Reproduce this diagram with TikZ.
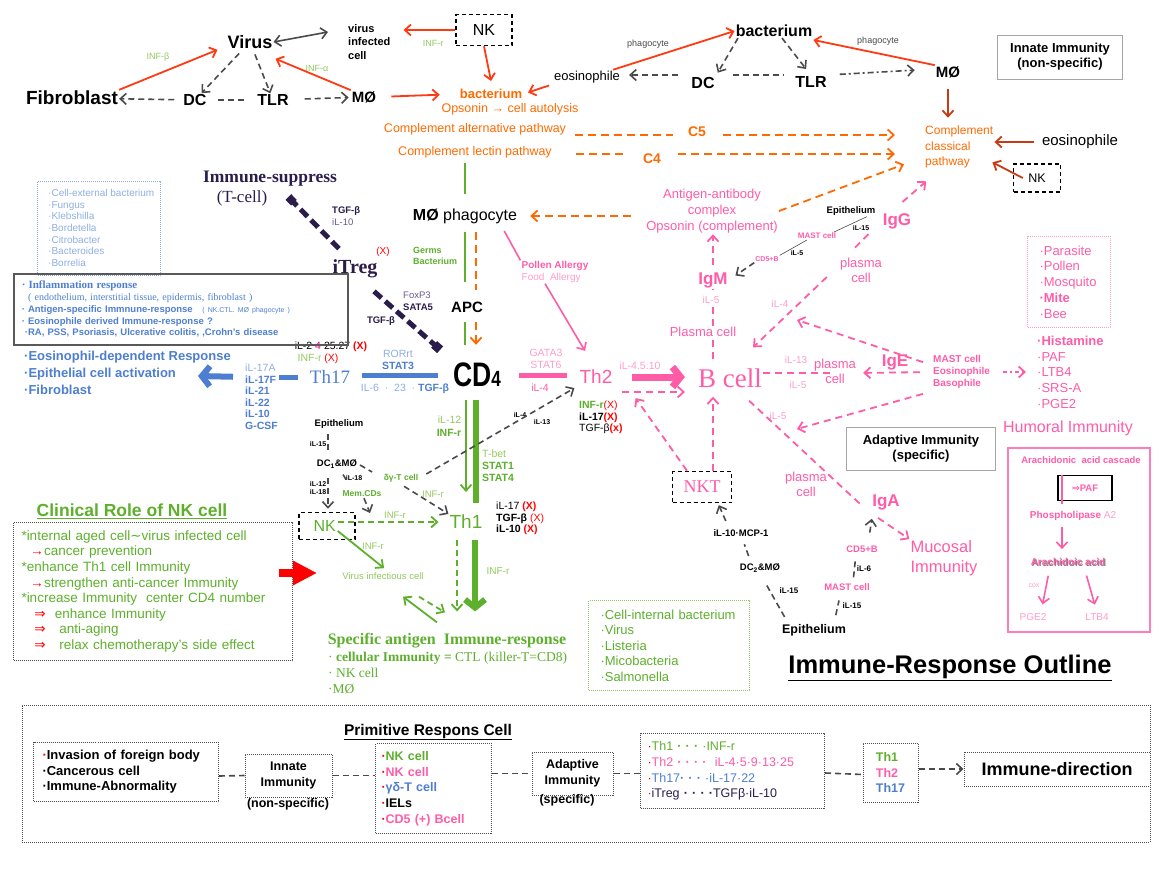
\documentclass[tikz,border=0pt]{standalone}
\usepackage{fontspec}
\setmainfont{Liberation Sans}
\newfontfamily\serf{Liberation Serif}
\newfontfamily\djv{DejaVu Sans}
\usetikzlibrary{arrows.meta}
\definecolor{redA}{HTML}{FF3A12}
\definecolor{brnA}{HTML}{C93A12}
\definecolor{orgA}{HTML}{FF6A00}
\definecolor{grnA}{HTML}{5DAF2C}
\definecolor{grnL}{HTML}{92C960}
\definecolor{pnkA}{HTML}{FF5CA8}
\definecolor{pnkL}{HTML}{FF9CCB}
\definecolor{bluA}{HTML}{4E7ED0}
\definecolor{bluL}{HTML}{8FAEE3}
\definecolor{purA}{HTML}{2B1D4A}
\definecolor{purL}{HTML}{6A5A8A}
\definecolor{gryA}{HTML}{4A4A4A}
\newcommand\ft[2]{\fontsize{#1}{#2}\selectfont}
\newcommand\rx[1]{\textcolor{red}{#1}}

\begin{document}
\begin{tikzpicture}[x=1pt,y=-1pt,>={Straight Barb[length=6pt,width=11pt]},inner sep=1pt]
  \tikzstyle{redline}=[->,draw=redA,line width=1.8pt]
  \tikzstyle{brnline}=[->,draw=brnA,line width=1.8pt]
  \tikzstyle{greydash}=[->,draw=gryA,line width=1.6pt,dash pattern=on 6pt off 4pt]
  \tikzstyle{orgdash}=[->,draw=orgA,line width=1.8pt,dash pattern=on 8pt off 5pt]
  \tikzstyle{pinkdash}=[->,draw=pnkA,line width=1.8pt,dash pattern=on 7pt off 5pt]
  \tikzstyle{pinkline}=[->,draw=pnkA,line width=1.6pt]
  \tikzstyle{grnline}=[draw=grnA,line width=1.8pt]
  \tikzstyle{grndash}=[->,draw=grnA,line width=1.8pt,dash pattern=on 6pt off 4pt]
  \tikzstyle{fatarrow}=[line width=6pt,-{Straight Barb[length=8pt,width=20pt]}]
  \tikzstyle{nkbox}=[draw=black,line width=1.5pt,dash pattern=on 4pt off 3pt]
  \tikzstyle{grybox}=[draw=gray!70,line width=1pt,align=center,font=\bfseries\ft{13}{15}]
  \tikzstyle{dotbox}=[draw=gray!60!black,line width=1pt,dash pattern=on 1pt off 1pt]
  \tikzstyle{tag}=[font=\bfseries\ft{7}{8}]
  \useasboundingbox (0,0) rectangle (1170,878);

  % innate immunity
  \node[font=\bfseries\ft{18}{18}] (virus) at (250,42) {Virus};
  \node[font=\bfseries\ft{11}{13.5},align=left,anchor=west] (vic) at (347,42) {virus\\infected\\cell};
  \node[font=\bfseries\ft{19}{19}] (fib) at (72,98) {Fibroblast};
  \node[font=\bfseries\ft{16}{16}] (dcA) at (195,100) {DC};
  \node[font=\bfseries\ft{16}{16}] (tlrA) at (273,100) {TLR};
  \node[font=\bfseries\ft{15}{15}] (moA) at (364,97) {MØ};
  \node[font=\ft{9}{9},text=grnL] (infb) at (158,57) {INF-β};
  \node[font=\ft{9}{9},text=grnL] (infa) at (317,68) {INF-α};
  \node[nkbox,minimum width=56pt,minimum height=31pt,font=\ft{16}{16}] (nkA) at (484,30) {NK};
  \node[font=\ft{9}{9},text=grnL] (infr) at (433,43) {INF-r};
  \node[font=\bfseries\ft{13}{13},text=orgA] (bacA) at (491,94) {bacterium};
  \node[font=\ft{12.5}{12.5},text=orgA] (opso) at (510,109) {Opsonin → cell autolysis};
  \node[font=\ft{13}{13}] (eosA) at (587,77) {eosinophile};
  \node[font=\ft{9}{9},text=gryA] (phgA) at (648,44) {phagocyte};
  \node[font=\bfseries\ft{16}{16}] (bacB) at (774,31) {bacterium};
  \node[font=\bfseries\ft{16}{16}] (dcB) at (703,83) {DC};
  \node[font=\bfseries\ft{16}{16}] (tlrB) at (811,82) {TLR};
  \node[font=\bfseries\ft{15}{15}] (moB) at (948,72) {MØ};
  \node[font=\ft{9}{9},text=gryA] (phgB) at (878,41) {phagocyte};
  \node[grybox,minimum width=125pt,minimum height=44pt] (innate) at (1060,57) {Innate Immunity\\(non-specific)};
  \node[font=\ft{12}{15.5},text=orgA,align=left,anchor=west] (ccp) at (924,147) {Complement\\classical\\pathway};
  \node[font=\ft{15}{15}] (eosB) at (1080,142) {eosinophile};
  \node[nkbox,minimum width=47pt,minimum height=28pt,font=\ft{12.5}{12.5}] (nkB) at (1037,178) {NK};
  \node[font=\ft{12.5}{12.5},text=orgA] (cap) at (475,129) {Complement alternative pathway};
  \node[font=\ft{12.5}{12.5},text=orgA] (clp) at (475,152) {Complement lectin pathway};
  \node[font=\bfseries\ft{14}{14},text=orgA] (cfive) at (697,132) {C5};
  \node[font=\bfseries\ft{14}{14},text=orgA] (cfour) at (652,159) {C4};

  % centre column
  \node[font=\ft{16}{16}] (mph) at (465,216) {\textbf{MØ} phagocyte};
  \node[font=\bfseries\ft{9}{11.5},text=grnA,align=left,anchor=west] (germs) at (412,256) {Germs\\Bacterium};
  \node[font=\bfseries\ft{15}{15}] (apc) at (467,307) {APC};
  \node[font=\bfseries\ft{34}{34},xscale=0.78] (cd4) at (477,375) {CD{\ft{22}{22}4}};
  \node[font=\ft{19}{19},text=grnA] (th1) at (466,522) {Th1};
  \node[font=\ft{10.5}{13},align=right] (ilonetwo) at (449,426) {\textcolor{grnL}{iL-12}\\\textcolor{grnA}{\textbf{INF-r}}};
  \node[font=\ft{10.5}{12},text=grnA,align=left,anchor=west] (tbet) at (481,466) {\textcolor{grnL}{T-bet}\\\textbf{STAT1}\\\textbf{STAT4}};
  \node[font=\ft{10.5}{11.5},align=left,anchor=north west] (thonex) at (495,501) {iL-17 \rx{\textbf{(X)}}\\\textbf{TGF-β} \rx{(X)}\\\textbf{iL-10} \rx{\textbf{(X)}}};
  \node[font=\ft{10}{10},text=grnL] (infrC) at (498,571) {INF-r};
  \node[font=\serf\bfseries\ft{16}{16},text=grnA] (spec) at (447,641) {Specific antigen\ \ Immune-response};
  \node[font=\serf\ft{13.5}{16},text=grnA,align=left,anchor=north west] (specl) at (327,651) {· \textbf{cellular Immunity =} CTL (killer-T=CD8)\\· NK cell\\·MØ};

  % regulatory / Th17 side
  \node[font=\serf\bfseries\ft{17.5}{17.5},text=purA] (imsup) at (270,179) {Immune-suppress};
  \node[font=\serf\ft{17}{17},text=purA] (tcell) at (242,198) {(T-cell)};
  \node[font=\ft{9.5}{12},text=purA,align=left,anchor=west] (tgfA) at (331,216) {\textbf{TGF-β}\\\textcolor{purL}{iL-10}};
  \node[font=\serf\bfseries\ft{20}{20},text=purA] (itreg) at (355,269) {iTreg};
  \node[font=\ft{10}{10},text=red] (itregx) at (383,252) {(X)};
  \node[font=\ft{9.5}{12.5},align=left,anchor=west] (foxp) at (402,301) {\textcolor{purL}{FoxP3}\\\textcolor{purA}{\textbf{SATA5}}};
  \node[font=\bfseries\ft{9.5}{9.5},text=purA] (tgfB) at (381,321) {TGF-β};
  \node[font=\serf\ft{19}{19},text=bluA] (th17) at (330,377) {Th17};
  \node[font=\ft{10.5}{10.5}] (iltwo) at (331,347) {iL-2 \textcolor{magenta}{4} 25.27 \rx{\textbf{(X)}}};
  \node[font=\ft{10.5}{10.5}] (infrX) at (318,359) {\textcolor{grnL}{INF-r} \rx{(X)}};
  \node[font=\ft{10.5}{12},text=bluA,align=center] (rorrt) at (398,360) {\textcolor{bluL}{RORrt}\\\textbf{STAT3}};
  \node[font=\ft{10.5}{10.5},text=bluL] (ilsix) at (405,389) {IL-6 \ · \ 23 \ · \textcolor{bluA}{\textbf{TGF-β}}};
  \node[anchor=north west,align=left,font=\bfseries\ft{10.5}{11.5},text=bluA] (il17) at (244,363) {\textcolor{bluL}{\mdseries iL-17A}\\iL-17F\\iL-21\\iL-22\\iL-10\\G-CSF};
  \node[anchor=west,align=left,font=\bfseries\ft{13}{17},text=bluA] (eosresp) at (23,373) {·Eosinophil-dependent Response\\·Epithelial cell activation\\·Fibroblast};
  \node[draw=bluL,line width=1pt,dash pattern=on 1pt off 1pt,anchor=north west,minimum width=123pt,minimum height=94pt] (extbox) at (37,181) {};
  \node[anchor=west,align=left,font=\ft{10}{11.7},text=bluL] (exttext) at (47,228) {·Cell-external bacterium\\·Fungus\\·Klebshilla\\·Bordetella\\·Citrobacter\\·Bacteroides\\·Borrelia};
  \node[draw=gray!70!black,line width=1.5pt,anchor=north west,minimum width=334pt,minimum height=71pt,text width=318pt,inner xsep=8pt,align=left,text=bluA,font=\bfseries\ft{9.5}{11.7}] (inflbox) at (13,273) {{\serf\ft{11}{11.7}· Inflammation response}\\
    {\serf\mdseries\ft{10}{11.7}\ \ ( endothelium, interstitial tissue, epidermis, fibroblast )}\\
    · Antigen-specific Immnune-response\ \ \ {\mdseries\ft{7}{11.7}( NK.CTL. MØ phagocyte )}\\
    · Eosinophile derived Immune-response ?\\
    \ ·RA, PSS, Psoriasis, Ulcerative colitis, ,Crohn’s disease};

  % Th2 / B cell side
  \node[font=\ft{19}{19},text=pnkA] (th2) at (596,377) {Th2};
  \node[font=\ft{10.5}{12.5},text=pnkL,align=center] (gata) at (546,359) {GATA3\\STAT6};
  \node[font=\ft{10.5}{10.5},text=pnkA] (ilfourA) at (540,388) {iL-4};
  \node[font=\ft{10.5}{11.5},align=left,anchor=north west] (thtwox) at (578,400) {\textcolor{grnA}{\textbf{INF-r}}\rx{(X)}\\\textbf{iL-17\rx{(X)}}\\TGF-β\rx{\textbf{(x)}}};
  \node[font=\bfseries\ft{10}{11.5},text=pnkA,align=left] (pollen) at (555,272) {Pollen Allergy\\\mdseries\textcolor{pnkL}{Food\ \ Allergy}};
  \node[font=\serf\ft{27}{27},text=pnkA] (bcell) at (730,378) {B cell};
  \node[font=\ft{10.5}{10.5},text=pnkL] (ilfourfive) at (640,366) {iL-4.5.10};
  \node[font=\ft{13}{13},text=pnkA] (plasm) at (703,332) {Plasma cell};
  \node[font=\bfseries\ft{17}{17},text=pnkA] (igm) at (713,280) {IgM};
  \node[font=\ft{13}{16},text=pnkA,align=center] (agc) at (712,211) {Antigen-antibody\\complex\\Opsonin (complement)};
  \node[font=\bfseries\ft{7}{7},text=pnkA] (cdfbA) at (767,259) {CD5+B};
  \node[font=\bfseries\ft{8}{8},text=pnkA] (mastA) at (817,236) {MAST cell};
  \node[font=\bfseries\ft{9.5}{9.5}] (epiA) at (851,211) {Epithelium};
  \node[tag] (ilfiveB) at (797,253) {iL-5};
  \node[tag] (ilfifA) at (861,228) {iL-15};
  \node[font=\bfseries\ft{17}{17},text=pnkA] (igg) at (897,221) {IgG};
  \node[font=\ft{13}{15},text=pnkA,align=center] (plg) at (861,270) {plasma\\cell};
  \node[font=\ft{10}{10},text=pnkL] (ilfourB) at (780,304) {iL-4};
  \node[font=\bfseries\ft{17}{17},text=pnkA] (ige) at (895,362) {IgE};
  \node[font=\ft{13}{15},text=pnkA,align=center] (ple) at (835,371) {plasma\\cell};
  \node[font=\ft{10}{10},text=pnkL] (ilthA) at (796,360) {iL-13};
  \node[font=\ft{10}{10},text=pnkL] (ilfiveC) at (798,385) {iL-5};
  \node[font=\ft{10}{10},text=pnkL] (ilfiveD) at (778,416) {iL-5};
  \node[font=\bfseries\ft{10}{12},text=pnkA,align=left,anchor=west] (mastB) at (932,372) {MAST cell\\Eosinophile\\Basophile};
  \node[draw=pnkL,line width=1pt,dash pattern=on 1pt off 1pt,anchor=north west,minimum width=83pt,minimum height=91pt,text width=59pt,inner xsep=12pt,align=left,font=\ft{13}{15.7},text=pnkA] (parbox) at (1027,236) {·Parasite\\·Pollen\\·Mosquito\\\textbf{·Mite}\\·Bee};
  \node[anchor=north west,align=left,font=\ft{13}{15.6},text=pnkA] (hist) at (1036,335) {\textbf{·Histamine}\\·PAF\\·LTB4\\·SRS-A\\·PGE2};
  \node[font=\ft{16}{16},text=pnkA] (humor) at (1068,428) {Humoral Immunity};
  \node[grybox,minimum width=149pt,minimum height=43pt] (adapt) at (921,449) {Adaptive Immunity\\(specific)};
  \node[draw=pnkA!80,line width=1.2pt,minimum width=142pt,minimum height=184pt] (arabox) at (1079,540) {};
  \node[font=\bfseries\ft{9.5}{9.5},text=pnkA] (aracas) at (1081,460) {Arachidonic\ \ acid cascade};
  \node[draw=black,line width=1.8pt,minimum width=54pt,minimum height=25pt,font=\bfseries\ft{9.5}{9.5},text=pnkA] (paf) at (1085,488) {{\djv ⇒}PAF};
  \node[font=\ft{10}{10},text=pnkA] (phos) at (1073,516) {\textbf{Phospholipase} \textcolor{pnkL}{A2}};
  \node[font=\bfseries\ft{10}{10},text=gray] (aracsh) at (1069,563) {Arachidoic acid};
  \node[font=\bfseries\ft{10}{10},text=pnkA] (arac) at (1068,562) {Arachidoic acid};
  \node[font=\ft{7}{7},text=pnkL] (cox) at (1034,586) {cox};
  \node[font=\ft{10}{10},text=pnkL] (pge) at (1033,617) {PGE2};
  \node[font=\ft{10}{10},text=pnkL] (ltb) at (1097,617) {LTB4};

  % mucosal side
  \node[nkbox,minimum width=59pt,minimum height=31pt,font=\serf\ft{18}{18},text=pnkA] (nkt) at (702,487) {NKT};
  \node[font=\bfseries\ft{9.5}{9.5}] (mcp) at (741,533) {iL-10·MCP-1};
  \node[font=\bfseries\ft{9.5}{9.5}] (dctwo) at (760,568) {DC\textsubscript{2}\&MØ};
  \node[font=\bfseries\ft{12.5}{12.5}] (epiB) at (814,630) {Epithelium};
  \node[font=\bfseries\ft{9.5}{9.5},text=pnkA] (mastC) at (847,587) {MAST cell};
  \node[font=\bfseries\ft{9.5}{9.5},text=pnkA] (cdfbB) at (862,549) {CD5+B};
  \node[tag,font=\bfseries\ft{8}{8}] (ilsixA) at (864,569) {iL-6};
  \node[tag,font=\bfseries\ft{8}{8}] (ilfifB) at (852,606) {iL-15};
  \node[tag,font=\bfseries\ft{8}{8}] (ilfifC) at (789,591) {iL-15};
  \node[font=\bfseries\ft{17}{17},text=pnkA] (iga) at (886,502) {IgA};
  \node[font=\ft{13}{15},text=pnkA,align=center] (pla) at (806,484) {plasma\\cell};
  \node[font=\ft{16.5}{20},text=pnkA,align=left] (muc) at (944,558) {Mucosal\\Immunity};
  \node[font=\bfseries\ft{25.5}{25.5}] (outline) at (950,668) {\underline{Immune-Response Outline}};
  \node[draw=grnL,line width=1pt,dash pattern=on 1pt off 1pt,anchor=north west,minimum width=161pt,minimum height=90pt,text width=137pt,inner xsep=12pt,align=left,font=\ft{13}{15.5},text=grnA] (intbox) at (588,600) {·Cell-internal bacterium\\·Virus\\·Listeria\\·Micobacteria\\·Salmonella};

  % NK cell, lower left
  \node[font=\bfseries\ft{9.5}{9.5}] (epiC) at (339,424) {Epithelium};
  \node[font=\bfseries\ft{9.5}{9.5}] (dcone) at (337,464) {DC\textsubscript{1}\&MØ};
  \node[tag] (ilfifD) at (318,444) {iL-15};
  \node[tag,align=right] (iltwelve) at (318,488) {iL-12\\iL-18};
  \node[tag] (ileight) at (354,478) {iL-18};
  \node[font=\bfseries\ft{8.5}{8.5},text=grnA] (memcd) at (362,494) {Mem.CDs};
  \node[font=\bfseries\ft{8.5}{8.5},text=grnA] (dgt) at (401,478) {δγ-T cell};
  \node[tag] (ilfourC) at (520,415) {iL-4};
  \node[tag] (ilthB) at (542,422) {iL-13};
  \node[nkbox,minimum width=56pt,minimum height=27pt,font=\ft{16}{16},text=grnA] (nkC) at (327,526) {NK\ \ };
  \node[font=\ft{9.5}{9.5},text=grnL] (infrD) at (433,494) {INF-r};
  \node[font=\ft{9.5}{9.5},text=grnL] (infrE) at (395,515) {INF-r};
  \node[font=\ft{9.5}{9.5},text=grnL] (infrF) at (373,546) {INF-r};
  \node[font=\ft{9.5}{9.5},text=grnL] (vi) at (383,576) {Virus infectious cell};
  \node[font=\bfseries\ft{17.5}{17.5},text=grnA] (clintitle) at (132,511) {\underline{Clinical Role of NK cell}};
  \node[dotbox,anchor=north west,minimum width=279pt,minimum height=138pt,text width=263pt,inner xsep=8pt,align=left,font=\ft{13.5}{15.6},text=grnA] (clin) at (13,522) {*internal aged cell{\djv ∼}virus infected cell\\
    \hspace*{9pt}\rx{→}cancer prevention\\{}%
    *enhance Th1 cell Immunity\\
    \hspace*{9pt}\rx{→}strengthen anti-cancer Immunity\\{}%
    *increase Immunity\ \ center CD4 number\\
    \hspace*{13pt}\rx{\djv ⇒}\ \ enhance Immunity\\
    \hspace*{13pt}\rx{\djv ⇒}\ \ \ anti-aging\\
    \hspace*{13pt}\rx{\djv ⇒}\ \ \ relax chemotherapy’s side effect};

  % bottom panel
  \node[dotbox,minimum width=1128pt,minimum height=137pt] (panel) at (586,773.5) {};
  \node[font=\bfseries\ft{15.5}{15.5}] (prim) at (428,732) {\underline{Primitive Respons Cell}};
  \node[dotbox,anchor=north west,minimum width=185pt,minimum height=59pt,text width=167pt,inner xsep=9pt,align=left,font=\bfseries\ft{13}{15.5}] (invas) at (33,742) {\rx{·}Invasion of foreign body\\·Cancerous cell\\·Immune-Abnormality};
  \node[dotbox,minimum width=87pt,minimum height=43pt,align=center,font=\bfseries\ft{12.5}{16}] (inn) at (288.5,775.5) {Innate\\Immunity};
  \node[font=\bfseries\ft{12.5}{12.5}] (nonsp) at (288,804) {(non-specific)};
  \node[dotbox,anchor=north west,minimum width=116pt,minimum height=90pt,text width=104pt,inner xsep=6pt,align=left,font=\bfseries\ft{12.5}{15.7}] (cells) at (375,743) {\rx{·}\textcolor{grnA}{NK cell}\\\rx{·}\textcolor{pnkA}{NK cell}\\\rx{·}\textcolor{bluA}{γδ-T cell}\\\rx{·}IELs\\\rx{·}\textcolor{pnkA}{CD5 (+) Bcell}};
  \node[dotbox,minimum width=81pt,minimum height=43pt,align=center,font=\bfseries\ft{12.5}{16}] (adp) at (572.5,773.5) {Adaptive\\Immunity};
  \node[font=\bfseries\ft{12.5}{12.5}] (spc) at (567,800) {(specific)};
  \node[dotbox,anchor=north west,minimum width=184pt,minimum height=75pt,text width=170pt,inner xsep=7pt,align=left,font=\ft{12.5}{15.6}] (thlist) at (640,733) {\rx{·}\textcolor{grnA}{Th1 \textbf{· · ·} ·INF-r}\\\rx{·}\textcolor{pnkA}{Th2 \textbf{· · · ·}\ \ iL-4·5·9·13·25}\\\rx{·}\textcolor{bluA}{Th17\textbf{· · ·} ·iL-17·22}\\\rx{·}\textcolor{purA}{iTreg \textbf{· · · ·}TGFβ·iL-10}};
  \node[dotbox,minimum width=55pt,minimum height=59pt,align=left,font=\bfseries\ft{12.5}{15.5}] (thbox) at (890.5,772.5) {\textcolor{grnA}{Th1}\\\textcolor{pnkA}{Th2}\\\textcolor{bluA}{Th17}};
  \node[dotbox,minimum width=186pt,minimum height=34pt,font=\bfseries\ft{18}{18}] (dir) at (1057,769) {Immune-direction};

  \coordinate (vicR) at ([xshift=12pt]vic.east);
  \coordinate (cfR) at ([yshift=-3pt]cfive.east);
  \coordinate (cfL) at ([yshift=5pt]cfour.east);
  \coordinate (mphO) at ([xshift=11pt]mph.south);
  \coordinate (cdS) at ([xshift=-1pt]cd4.south);
  \coordinate (cdT) at ([xshift=-11pt]cd4.south);
  \coordinate (thA) at ([xshift=-9pt]th1.south);
  \coordinate (thB) at ([xshift=9pt]th1.south);
  \coordinate (thTwoLow) at ([yshift=-15pt]th2.east);
  \coordinate (ptA) at (797,320);
  \coordinate (ptB) at (797,429);
  \coordinate (memtip) at (370,513);
  \coordinate (rarA) at (279,573);
  \coordinate (rarB) at (317,573);
  \coordinate (eostip) at (198,376);

  % connectors, innate part
  \draw[greydash,<->,solid] (virus.east) -- ([xshift=-19pt,yshift=10pt]vic.west);
  \draw[greydash,shorten <=5pt] (virus) -- (dcA);
  \draw[greydash,shorten <=5pt] (virus) -- (tlrA);
  \draw[greydash,shorten <=8pt] (dcA) -- (fib);
  \draw[greydash,-,shorten <=10pt,shorten >=10pt] (dcA) -- (tlrA);
  \draw[greydash,shorten <=15pt,shorten >=2pt] (tlrA) -- (moA);
  \draw[redline] (fib.north east) -- ([xshift=-9pt]virus.south west);
  \draw[redline] (moA.north west) -- ([xshift=2pt,yshift=-9pt]virus.south east);
  \draw[redline] (nkA.west) -- (nkA.west -| vicR);
  \draw[redline] (nkA.south) -- ([yshift=7pt]bacA.north);
  \draw[redline,shorten <=14pt,shorten >=19pt] (moA.east) -- (bacA.west);
  \draw[redline,shorten <=4pt,shorten >=5pt] (eosA.south west) -- (bacA.east);
  \draw[redline] ([xshift=-8pt]eosA.north east) -- (bacB.west);
  \draw[greydash,shorten >=4pt] ([xshift=-36pt]bacB.south) -- (dcB.north east);
  \draw[greydash,shorten >=8pt] ([xshift=8pt]bacB.south) -- (tlrB.north);
  \draw[greydash,shorten <=12pt,shorten >=8pt] ([yshift=8pt]dcB.west) -- ([yshift=2pt]eosA.east);
  \draw[greydash,-,shorten <=17pt,shorten >=11pt] ([yshift=8pt]dcB.east) -- ([yshift=7pt]tlrB.west);
  \draw[greydash,dash pattern=on 6pt off 3pt on 2pt off 3pt,shorten <=12pt,shorten >=20pt] ([yshift=7pt]tlrB.east) -- ([yshift=3pt]moB.west);
  \draw[redline] (moB.north west) -- ([yshift=-9pt]bacB.east);
  \draw[brnline,shorten <=10pt,shorten >=7pt] (moB.south) -- (moB.south |- ccp.north);
  \draw[brnline,shorten <=7pt] (eosB.west) -- (eosB.west -| ccp.east);
  \draw[brnline] ([xshift=10pt]nkB.west) -- ([xshift=-2pt,yshift=7pt]ccp.south east);
  \draw[orgdash,-,shorten <=8pt,shorten >=14pt] ([yshift=-6pt]cap.east) -- ([yshift=-3pt]cfive.west);
  \draw[orgdash,shorten <=16pt,shorten >=29pt] (cfR) -- (cfR -| ccp.west);
  \draw[orgdash,-,shorten <=23pt,shorten >=14pt] ([yshift=-2pt]clp.east) -- ([yshift=5pt]cfour.west);
  \draw[orgdash,shorten <=16pt,shorten >=29pt] (cfL) -- (cfL -| ccp.west);
  \draw[orgdash] (agc.east) -- ([xshift=-20pt,yshift=5pt]ccp.south west);

  % connectors, centre
  \draw[grnline,shorten <=4pt,shorten >=13pt] (mph.north |- clp.south) -- (mph.north);
  \draw[grnline,shorten <=7pt,shorten >=18pt] (mph.south) -- (mph.south |- apc.north);
  \draw[orgdash,-,shorten <=7pt,shorten >=10pt] (mphO) -- (mphO |- apc.north);
  \draw[grnline,shorten <=8pt,shorten >=17pt] (apc.south -| mph.south) -- (mph.south |- cd4.north);
  \draw[orgdash,shorten <=8pt,shorten >=17pt] (apc.south -| mphO) -- (mphO |- cd4.north);
  \draw[orgdash,shorten <=14pt,shorten >=12pt] (agc.west |- mph.east) -- (mph.east);
  \draw[pinkline,-] ([xshift=-14pt,yshift=-15pt]mph.east) -- (pollen.north west);
  \draw[pinkline] ([xshift=-10pt]pollen.south) -- ([xshift=-11pt,yshift=18pt]th2.north);
  \draw[purA,line width=5pt,dash pattern=on 10pt off 5pt,-{Square[length=8pt,width=8pt]}] ([xshift=-16pt,yshift=10pt]itreg.north) -- ([xshift=20pt,yshift=1pt]tcell.east);
  \draw[purA,line width=5pt,dash pattern=on 10pt off 5pt,-{Square[length=8pt,width=9pt]}] ([xshift=19pt,yshift=-12pt]itreg.south) -- ([xshift=-12pt,yshift=12pt]cd4.north west);
  \draw[bluA,line width=5pt,shorten <=14pt,shorten >=11pt] (cd4.west) -- (cd4.west -| th17.east);
  \draw[bluA,line width=5pt,shorten <=11pt] (th17.west) -- (th17.west -| il17.east);
  \draw[bluA,fatarrow,shorten <=11pt] (th17.west -| il17.west) -- (eostip);
  \draw[pnkA,line width=5pt,shorten <=17pt,shorten >=11pt] (cd4.east) -- (cd4.east -| th2.west);
  \draw[pnkA,fatarrow,line width=7pt,shorten <=18pt,shorten >=12pt] (th2.east) -- (th2.east -| bcell.west);
  \draw[pinkdash,shorten <=8pt,shorten >=12pt] (thTwoLow) -- (thTwoLow -| bcell.west);
  \draw[grnA,line width=6pt,shorten <=12pt,shorten >=11pt] (cdS) -- (cdS |- th1.north);
  \draw[grnA,line width=1.8pt,->,shorten <=12pt,shorten >=22pt] (cdT) -- (cdT |- th1.north);
  \draw[grndash,shorten <=10pt,shorten >=21pt] (thA) -- (thA |- spec.north);
  \draw[grnA,fatarrow,shorten <=10pt,shorten >=21pt] (thB) -- (thB |- spec.north);
  \draw[grnA,line width=1.8pt,->] ([xshift=-10pt,yshift=10pt]spec.north) -- ([xshift=20pt,yshift=-16pt]vi.south);
  \draw[grndash] ([xshift=36pt,yshift=-16pt]vi.south) -- ([xshift=-2pt,yshift=20pt]spec.north);

  % connectors, NK cell
  \draw[greydash,-,shorten <=4pt,shorten >=9pt] ([xshift=-11pt]epiC.south) -- ([xshift=-9pt]dcone.north);
  \draw[greydash,shorten <=9pt,shorten >=3pt] ([xshift=-9pt]dcone.south) -- ([xshift=1pt]nkC.north);
  \draw[greydash,-,shorten <=6pt,shorten >=8pt] ([xshift=3pt]dcone.south) -- ([xshift=-10pt]memcd.north);
  \draw[greydash] ([xshift=2pt]memcd.south) -- (memtip);
  \draw[greydash,-,shorten <=2pt,shorten >=12pt] (dcone.east) -- (dgt.west);
  \draw[greydash,shorten <=6pt] ([xshift=-2pt]dgt.south) -- (th1.north west);
  \draw[greydash,shorten <=8pt] (dgt.east) -- ([xshift=-4pt,yshift=-3pt]th2.south west);
  \draw[grndash,shorten >=10pt] ([xshift=-18pt,yshift=4pt]nkC.east) -- (th1.west);
  \draw[grnA,line width=1.8pt,->,shorten >=5pt] ([xshift=-18pt,yshift=-5pt]nkC.east) -- ([xshift=5pt]vi.north);
  \draw[red,line width=8pt,-{Triangle[length=24pt,width=23pt]}] (rarA) -- (rarB);

  % connectors, B cell
  \draw[pinkdash,-,shorten <=8pt] (bcell.north -| igm) -- (plasm.south -| igm);
  \draw[pinkdash,-] (plasm.north -| igm) -- (igm.south);
  \node[font=\ft{10}{10},text=pnkL,fill=white] (ilfiveA) at (711,300) {iL-5};
  \draw[pinkdash,shorten <=6pt] (igm.north) -- (agc.south -| igm);
  \draw[gryA,line width=0.6pt] (cdfbA.north east) -- ([xshift=10pt]mastA.south west);
  \draw[gryA,line width=0.6pt] ([xshift=-3pt]mastA.north east) -- ([xshift=16pt]epiA.south);
  \draw[greydash,shorten >=8pt] (cdfbA.south west) -- (igm.east);
  \draw[pinkdash,-] ([xshift=-6pt,yshift=9pt]plg.north) -- ([xshift=-12pt,yshift=-3pt]igg.south west);
  \draw[pinkdash] ([xshift=-10pt,yshift=10pt]igg.north east) -- ([xshift=-33pt,yshift=-12pt]ccp.south);
  \draw[pinkdash] ([xshift=-12pt,yshift=-7pt]plg.west) -- ([xshift=-10pt,yshift=20pt]bcell.north east);
  \draw[pinkdash,-] ([yshift=5pt]bcell.east) -- ([yshift=-2pt]ple.center);
  \draw[pinkdash,shorten <=12pt,shorten >=6pt] (mastB.west) -- ([yshift=-2pt]ple.east);
  \draw[pinkdash] ([xshift=-9pt,yshift=-8pt]mastB.north west) -- (ptA);
  \draw[pinkdash] ([xshift=-9pt,yshift=-4pt]mastB.south west) -- (ptB);
  \draw[pinkdash,dash pattern=on 4pt off 3pt on 2pt off 3pt,shorten <=12pt,shorten >=10pt] (mastB.east) -- (mastB.east -| hist.west);
  \draw[pinkdash,shorten >=8pt] (nkt.north -| igm) -- (bcell.south -| igm);
  \draw[pinkdash] ([xshift=-15pt]nkt.north) -- ([xshift=22pt,yshift=-13pt]th2.south east);
  \draw[pinkdash,-] ([xshift=-14pt,yshift=-12pt]bcell.south east) -- ([xshift=-11pt,yshift=-2pt]iga.west);
  \draw[pinkdash] ([xshift=-8pt,yshift=-7pt]iga.south) -- (muc.north west);
  \draw[greydash,shorten <=8pt,shorten >=2pt] ([xshift=-12pt]mcp.north) -- ([xshift=16pt]nkt.south);
  \draw[greydash,-,shorten <=7pt,shorten >=7pt] ([xshift=-9pt]dctwo.north) -- ([xshift=1pt]mcp.south);
  \draw[greydash,-,shorten <=7pt,shorten >=10pt] ([xshift=-26pt]epiB.north) -- (dctwo.south);
  \draw[greydash,-,shorten <=8pt,shorten >=9pt] ([xshift=20pt]epiB.north) -- ([xshift=-6pt]mastC.south);
  \draw[greydash,-,shorten <=5pt,shorten >=5pt] ([xshift=6pt]mastC.north) -- ([xshift=-6pt]cdfbB.south);
  \draw[greydash,shorten <=12pt,shorten >=8pt] ([xshift=6pt]cdfbB.north) -- ([xshift=-13pt]iga.south);
  \draw[pnkA,line width=1.5pt] ([xshift=5pt]paf.north west) -- ([xshift=5pt,yshift=-3pt]paf.south west);
  \draw[pinkline,shorten <=5pt,shorten >=8pt] ([xshift=-11pt]phos.south) -- ([xshift=-6pt]arac.north);
  \draw[pinkline,shorten <=9pt,shorten >=8pt] ([xshift=-18pt]arac.south) -- ([xshift=8pt]pge.north);
  \draw[pinkline,shorten <=9pt,shorten >=8pt] ([xshift=16pt]arac.south) -- (ltb.north);

  % connectors, bottom panel
  \draw[greydash,-] ([yshift=-4pt]invas.east) -- (inn.west);
  \draw[greydash,-] (inn.east) -- (inn.east -| cells.west);
  \draw[greydash,-] (cells.east |- adp.west) -- (adp.west);
  \draw[greydash,-] (adp.east) -- (adp.east -| thlist.west);
  \draw[greydash,-] ([yshift=-2pt]thlist.east) -- ([yshift=-2pt]thbox.west);
  \draw[greydash] (thbox.east |- dir.west) -- (dir.west);
\end{tikzpicture}
\end{document}
